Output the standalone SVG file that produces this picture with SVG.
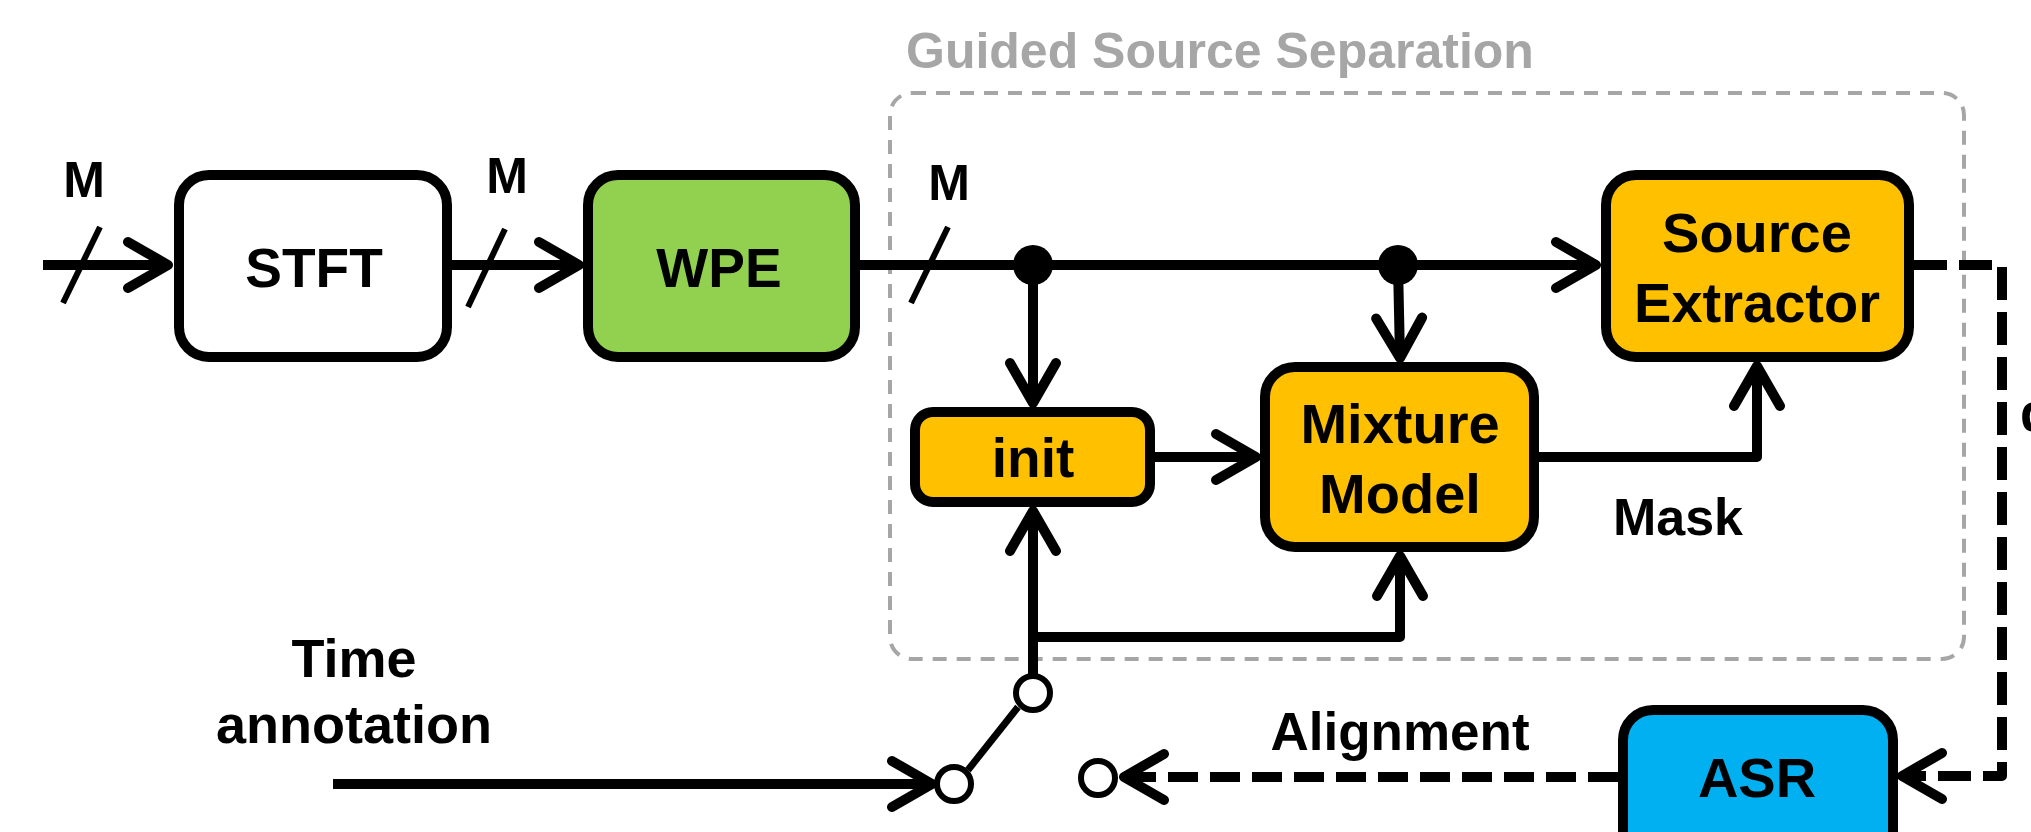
<svg xmlns="http://www.w3.org/2000/svg" width="2031" height="832" viewBox="0 0 2031 832">
<style>
.box{stroke:#000;stroke-width:10}
.t{font-family:"Liberation Sans",Arial,sans-serif;font-weight:bold;fill:#000;text-anchor:middle}
.ln{fill:none;stroke:#000;stroke-width:10;stroke-linejoin:round}
.sl{stroke:#000;stroke-width:6}
.sw{fill:#fff;stroke:#000;stroke-width:6}
</style>
<defs>
<marker id="ah" markerUnits="userSpaceOnUse" viewBox="-50 -30 60 60" refX="0" refY="0" markerWidth="60" markerHeight="60" orient="auto" overflow="visible">
<path d="M-40,-23 L0,0 L-40,23" fill="none" stroke="#000" stroke-width="10" stroke-linecap="round" stroke-linejoin="round" stroke-dasharray="none"/>
</marker>
</defs>
<rect width="2031" height="832" fill="#fff"/>

<g id="gss-group">
<rect x="890" y="93" width="1074" height="566" rx="22" fill="none" stroke="#a6a6a6" stroke-width="4" stroke-dasharray="14 10"/>
<text x="906" y="68" style="font-family:'Liberation Sans',Arial,sans-serif;font-weight:bold;font-size:50px;fill:#a6a6a6">Guided Source Separation</text>
</g>

<g id="connectors">
<path class="ln" d="M43,265 H168" marker-end="url(#ah)"/>
<path class="ln" d="M452,265 H579" marker-end="url(#ah)"/>
<path class="ln" d="M860,265 H1596" marker-end="url(#ah)"/>
<path class="ln" d="M1033,265 V403" marker-end="url(#ah)"/>
<path class="ln" d="M1398,265 L1400,358" marker-end="url(#ah)"/>
<path class="ln" d="M1155,457 H1256" marker-end="url(#ah)"/>
<path class="ln" d="M1539,457 H1757 V366" marker-end="url(#ah)"/>
<path class="ln" d="M1033,676 V511" marker-end="url(#ah)"/>
<path class="ln" d="M1033,637 H1400 V556" marker-end="url(#ah)"/>
<path class="ln" d="M333,784 H932" marker-end="url(#ah)"/>
<path class="ln" d="M1914,265 H2002 V776 H1902" stroke-dasharray="33 12" marker-end="url(#ah)"/>
<path class="ln" d="M1618,777 H1124" stroke-width="11" stroke-dasharray="30 12" marker-end="url(#ah)"/>
<line class="sl" x1="100" y1="227" x2="63" y2="303"/>
<line class="sl" x1="505" y1="229" x2="468" y2="307"/>
<line class="sl" x1="948" y1="227" x2="911" y2="303"/>
<circle cx="1033" cy="265" r="20" fill="#000"/>
<circle cx="1398" cy="265" r="20" fill="#000"/>
<line x1="968" y1="770" x2="1018" y2="707" stroke="#000" stroke-width="7"/>
<circle class="sw" cx="954" cy="784" r="17"/>
<circle class="sw" cx="1033" cy="693" r="17"/>
<circle class="sw" cx="1098" cy="778" r="17"/>
</g>

<g id="labels">
<text class="t" x="84" y="197" font-size="50">M</text>
<text class="t" x="507" y="193" font-size="50">M</text>
<text class="t" x="949" y="200" font-size="50">M</text>
<text class="t" x="1678" y="535" font-size="52">Mask</text>
<text class="t" x="1400" y="750" font-size="53">Alignment</text>
<text class="t" x="354" y="677" font-size="54">Time</text>
<text class="t" x="354" y="743" font-size="54">annotation</text>
<text x="2020" y="431" style="font-family:'Liberation Sans',Arial,sans-serif;font-weight:bold;font-size:53px">d</text>
</g>

<g id="stft">
<rect class="box" x="179" y="175" width="268" height="182" rx="30" fill="#fff"/>
<text class="t" x="314" y="287" font-size="55">STFT</text>
</g>
<g id="wpe">
<rect class="box" x="588" y="175" width="267" height="182" rx="30" fill="#92d050"/>
<text class="t" x="719" y="287" font-size="55">WPE</text>
</g>
<g id="source-extractor">
<rect class="box" x="1606" y="175" width="303" height="182" rx="30" fill="#ffc000"/>
<text class="t" x="1757" y="252" font-size="56">Source</text>
<text class="t" x="1757" y="322" font-size="56">Extractor</text>
</g>
<g id="init">
<rect class="box" x="915" y="412" width="235" height="90" rx="18" fill="#ffc000"/>
<text class="t" x="1033" y="477" font-size="55">init</text>
</g>
<g id="mixture-model">
<rect class="box" x="1265" y="367" width="269" height="180" rx="30" fill="#ffc000"/>
<text class="t" x="1400" y="443" font-size="56">Mixture</text>
<text class="t" x="1400" y="513" font-size="56">Model</text>
</g>
<g id="asr">
<rect class="box" x="1623" y="710" width="270" height="180" rx="30" fill="#00b0f0"/>
<text class="t" x="1757" y="797" font-size="56">ASR</text>
</g>
</svg>
